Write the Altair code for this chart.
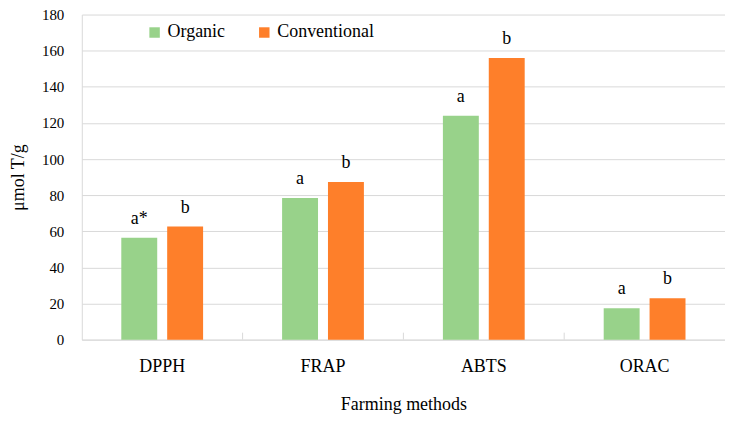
import altair as alt
import pandas as pd

categories = ["DPPH", "FRAP", "ABTS", "ORAC"]
series = ["Organic", "Conventional"]
organic = [56.4, 78.5, 124.0, 17.4]
conventional = [62.6, 87.3, 156.0, 22.9]
organic_letters = ["a*", "a", "a", "a"]
conventional_letters = ["b", "b", "b", "b"]
y_ticks = [0, 20, 40, 60, 80, 100, 120, 140, 160, 180]

rows = []
for i, c in enumerate(categories):
    rows.append({"method": c, "series": "Organic", "value": organic[i], "label": organic_letters[i]})
    rows.append({"method": c, "series": "Conventional", "value": conventional[i], "label": conventional_letters[i]})
df = pd.DataFrame(rows)

FONT = "Liberation Serif"
colors = ["#98D28A", "#FE7F2A"]

x = alt.X("method:N", sort=categories, title="Farming methods",
          scale=alt.Scale(paddingInner=0, paddingOuter=0),
          axis=alt.Axis(labelAngle=0, labelFontSize=18, titleFontSize=18, labelPadding=18,
                        titlePadding=20, ticks=False, domainColor="#d9d9d9", labelColor="#000",
                        titleColor="#000", titleFontWeight="normal", grid=False,
                        labelFont=FONT, titleFont=FONT))
xoff = alt.XOffset("series:N", sort=series,
                   scale=alt.Scale(paddingInner=0.217, paddingOuter=0.861))
y = alt.Y("value:Q", title="μmol T/g",
          scale=alt.Scale(domain=[0, 180]),
          axis=alt.Axis(values=y_ticks, labelFontSize=15, titleFontSize=18,
                        ticks=False, labelPadding=18, titlePadding=14, gridColor="#d9d9d9",
                        domainColor="#d9d9d9", labelColor="#000", titleColor="#000",
                        titleFontWeight="normal", labelOverlap=False,
                        labelFont=FONT, titleFont=FONT))

bars = alt.Chart(df).mark_bar().encode(
    x=x, xOffset=xoff, y=y,
    color=alt.Color("series:N", sort=series, scale=alt.Scale(domain=series, range=colors),
                    legend=alt.Legend(title=None, orient="none", legendX=64, legendY=9,
                                      direction="horizontal", symbolType="square",
                                      symbolSize=110, labelFontSize=18, columnPadding=30,
                                      symbolStrokeWidth=0, labelColor="#000",
                                      labelFont=FONT, symbolOpacity=1)),
)

text = alt.Chart(df).mark_text(baseline="alphabetic", dy=-14, fontSize=18, font=FONT, color="#000").encode(
    x=x, xOffset=xoff, y=y,
    text="label:N",
)

tick_df = pd.DataFrame({"method": categories[1:]})
ticks = alt.Chart(tick_df).mark_rule(color="#d9d9d9").encode(
    x=alt.X("method:N", sort=categories, bandPosition=0),
    y=alt.value(326), y2=alt.value(319),
)

chart = alt.layer(bars, text, ticks).properties(
    width=645, height=326,
    autosize=alt.AutoSizeParams(type="none"),
    padding={"left": 74, "top": 6, "right": 0, "bottom": 84},
).configure(font=FONT).configure_view(stroke=None).configure_axis(labelFont=FONT, titleFont=FONT)

chart.save("out.html", embed_options={"renderer": "svg", "actions": False})
